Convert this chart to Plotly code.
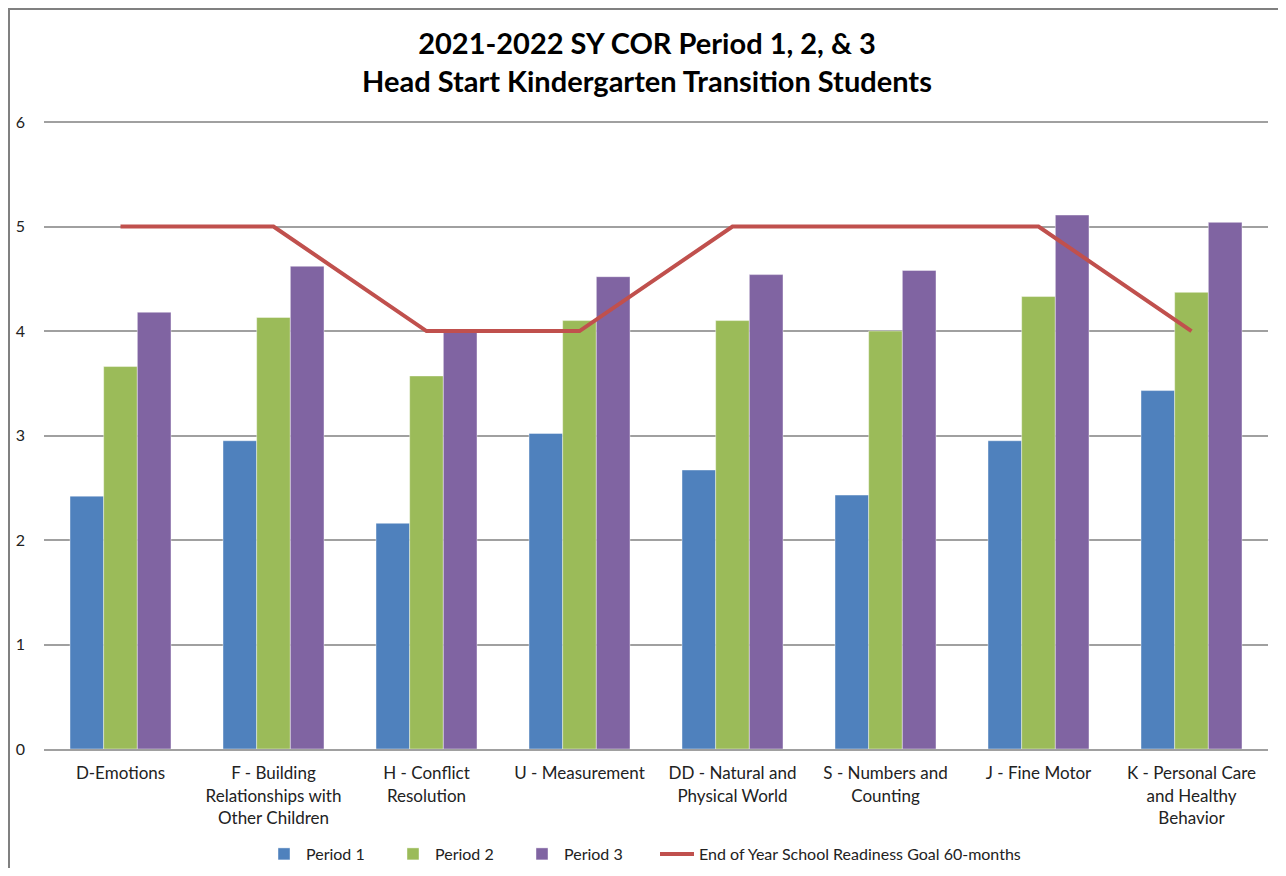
import plotly.graph_objects as go

categories = [
    "D-Emotions",
    "F - Building<br>Relationships with<br>Other Children",
    "H - Conflict<br>Resolution",
    "U - Measurement",
    "DD - Natural and<br>Physical World",
    "S - Numbers and<br>Counting",
    "J - Fine Motor",
    "K - Personal Care<br>and Healthy<br>Behavior",
]
period1 = [2.42, 2.95, 2.16, 3.02, 2.67, 2.43, 2.95, 3.43]
period2 = [3.66, 4.13, 3.57, 4.10, 4.10, 4.00, 4.33, 4.37]
period3 = [4.18, 4.62, 4.00, 4.52, 4.54, 4.58, 5.11, 5.04]
goal = [5, 5, 4, 4, 5, 5, 5, 4]

FONT = "Lato"

# the page shows the figure with an 8px offset; size it to fit the viewport
OFF = 8
W, H = 1270, 860
YMAX = 6.01
PL, PR, PB = 44, 1268, 749            # screenshot pixels
PT = PB - 104.5 * YMAX                 # top so that y=6 sits at ~122
ml, mr, mt, mb = PL - OFF, W + OFF - PR, PT - OFF, H + OFF - PB
pw, ph = PR - PL, PB - PT


def px_x(sx):  # screenshot x -> paper x
    return (sx - PL) / pw


def px_y(sy):  # screenshot y -> paper y
    return (PB - sy) / ph


fig = go.Figure()
bar_line = dict(color="rgba(255,255,255,0.6)", width=0.7)
fig.add_trace(go.Bar(x=categories, y=period1, name="Period 1",
                     marker=dict(color="#4F81BD", line=bar_line)))
fig.add_trace(go.Bar(x=categories, y=period2, name="Period 2",
                     marker=dict(color="#9BBB59", line=bar_line)))
fig.add_trace(go.Bar(x=categories, y=period3, name="Period 3",
                     marker=dict(color="#8064A2", line=bar_line)))
fig.add_trace(go.Scatter(x=categories, y=goal, mode="lines",
                         name="End of Year School Readiness Goal 60-months",
                         line=dict(color="#C0504D", width=4), legend="legend2"))

fig.update_layout(
    width=W, height=H,
    paper_bgcolor="white", plot_bgcolor="white",
    margin=dict(l=ml, r=mr, t=mt, b=mb, autoexpand=False),
    font=dict(family=FONT, size=16, color="#222222"),
    title=dict(
        text="<b>2021-2022 SY COR Period 1, 2, & 3<br>Head Start Kindergarten Transition Students</b>",
        x=639 / W, xanchor="center",
        y=1 - 46 / H, yanchor="middle",
        font=dict(family=FONT, size=29, color="black"),
    ),
    barmode="group",
    bargap=0.34,
    bargroupgap=0,
    showlegend=True,
    legend=dict(orientation="h", x=px_x(262), xanchor="left",
                y=px_y(854), yanchor="middle",
                font=dict(family=FONT, size=16),
                traceorder="normal", itemwidth=34, entrywidth=80),
    legend2=dict(orientation="h", x=px_x(655), xanchor="left",
                 y=px_y(854), yanchor="middle",
                 font=dict(family=FONT, size=16), itemwidth=34),
    xaxis=dict(showgrid=False, showline=True, linecolor="#A0A0A0", linewidth=2,
               ticks="", tickfont=dict(family=FONT, size=17), ticklabelstandoff=8),
    yaxis=dict(range=[0, YMAX], tickvals=[0, 1, 2, 3, 4, 5, 6], showgrid=True,
               gridcolor="#A0A0A0", gridwidth=2, zeroline=False, showline=False,
               ticks="", tickfont=dict(family=FONT, size=16), ticklabelstandoff=18),
    shapes=[dict(type="rect", xref="paper", yref="paper",
                 x0=px_x(OFF + 1), x1=px_x(1320),
                 y0=px_y(920), y1=px_y(OFF + 1),
                 line=dict(color="#808080", width=2), fillcolor="rgba(0,0,0,0)",
                 layer="below")],
)

fig.write_html("out.html")
